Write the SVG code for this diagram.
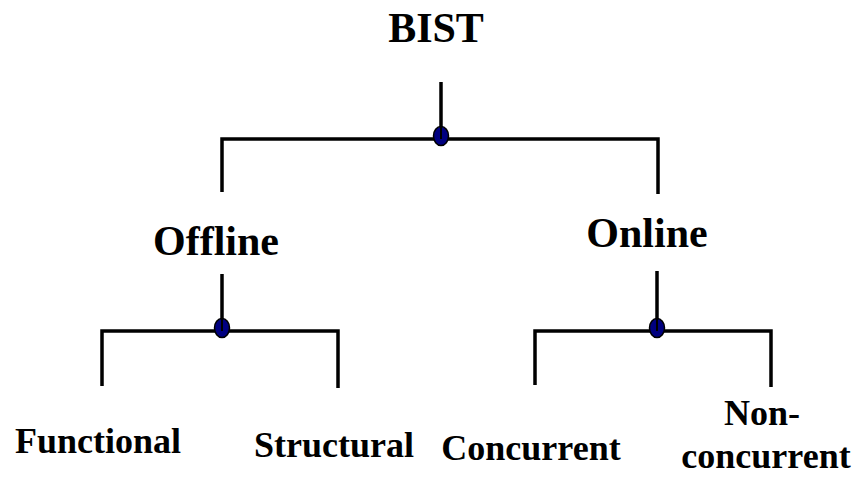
<svg xmlns="http://www.w3.org/2000/svg" width="861" height="479" viewBox="0 0 861 479">
  <style>
    .lbl { font-family: "Liberation Serif", "Times New Roman", serif; font-weight: bold; fill: #000; text-anchor: middle; }
    .big { font-size: 42px; }
    .small { font-size: 36px; }
    .wire { stroke: #000; stroke-width: 3.5; fill: none; stroke-linecap: butt; stroke-linejoin: miter; }
    .junction { fill: #000080; stroke: #000; stroke-width: 1.5; }
  </style>
  <rect width="861" height="479" fill="#fff"/>

  <g id="connectors">
    <!-- BIST split -->
    <path class="wire" d="M441 82 V139"/>
    <path class="wire" d="M222 192 V139 H658 V194"/>
    <ellipse class="junction" cx="441" cy="136" rx="7.5" ry="9.5"/>
    <line x1="441" y1="127" x2="441" y2="139" stroke="#000" stroke-width="2"/>
    <!-- Offline split -->
    <path class="wire" d="M222 274 V331"/>
    <path class="wire" d="M102 386 V331 H338 V388"/>
    <ellipse class="junction" cx="222" cy="328" rx="7.5" ry="9.5"/>
    <line x1="222" y1="319" x2="222" y2="331" stroke="#000" stroke-width="2"/>
    <!-- Online split -->
    <path class="wire" d="M657 271 V331"/>
    <path class="wire" d="M535 385 V331 H771 V387"/>
    <ellipse class="junction" cx="657" cy="328" rx="7.5" ry="9.5"/>
    <line x1="657" y1="319" x2="657" y2="331" stroke="#000" stroke-width="2"/>
  </g>

  <g id="bist"><text class="lbl big" x="436" y="42">BIST</text></g>
  <g id="offline"><text class="lbl big" x="216" y="255">Offline</text></g>
  <g id="online"><text class="lbl big" x="647" y="247">Online</text></g>
  <g id="functional"><text class="lbl small" x="98" y="453">Functional</text></g>
  <g id="structural"><text class="lbl small" x="334" y="457">Structural</text></g>
  <g id="concurrent"><text class="lbl small" x="531" y="460">Concurrent</text></g>
  <g id="nonconcurrent">
    <text class="lbl small" x="762" y="425">Non-</text>
    <text class="lbl small" x="766" y="468">concurrent</text>
  </g>
</svg>
